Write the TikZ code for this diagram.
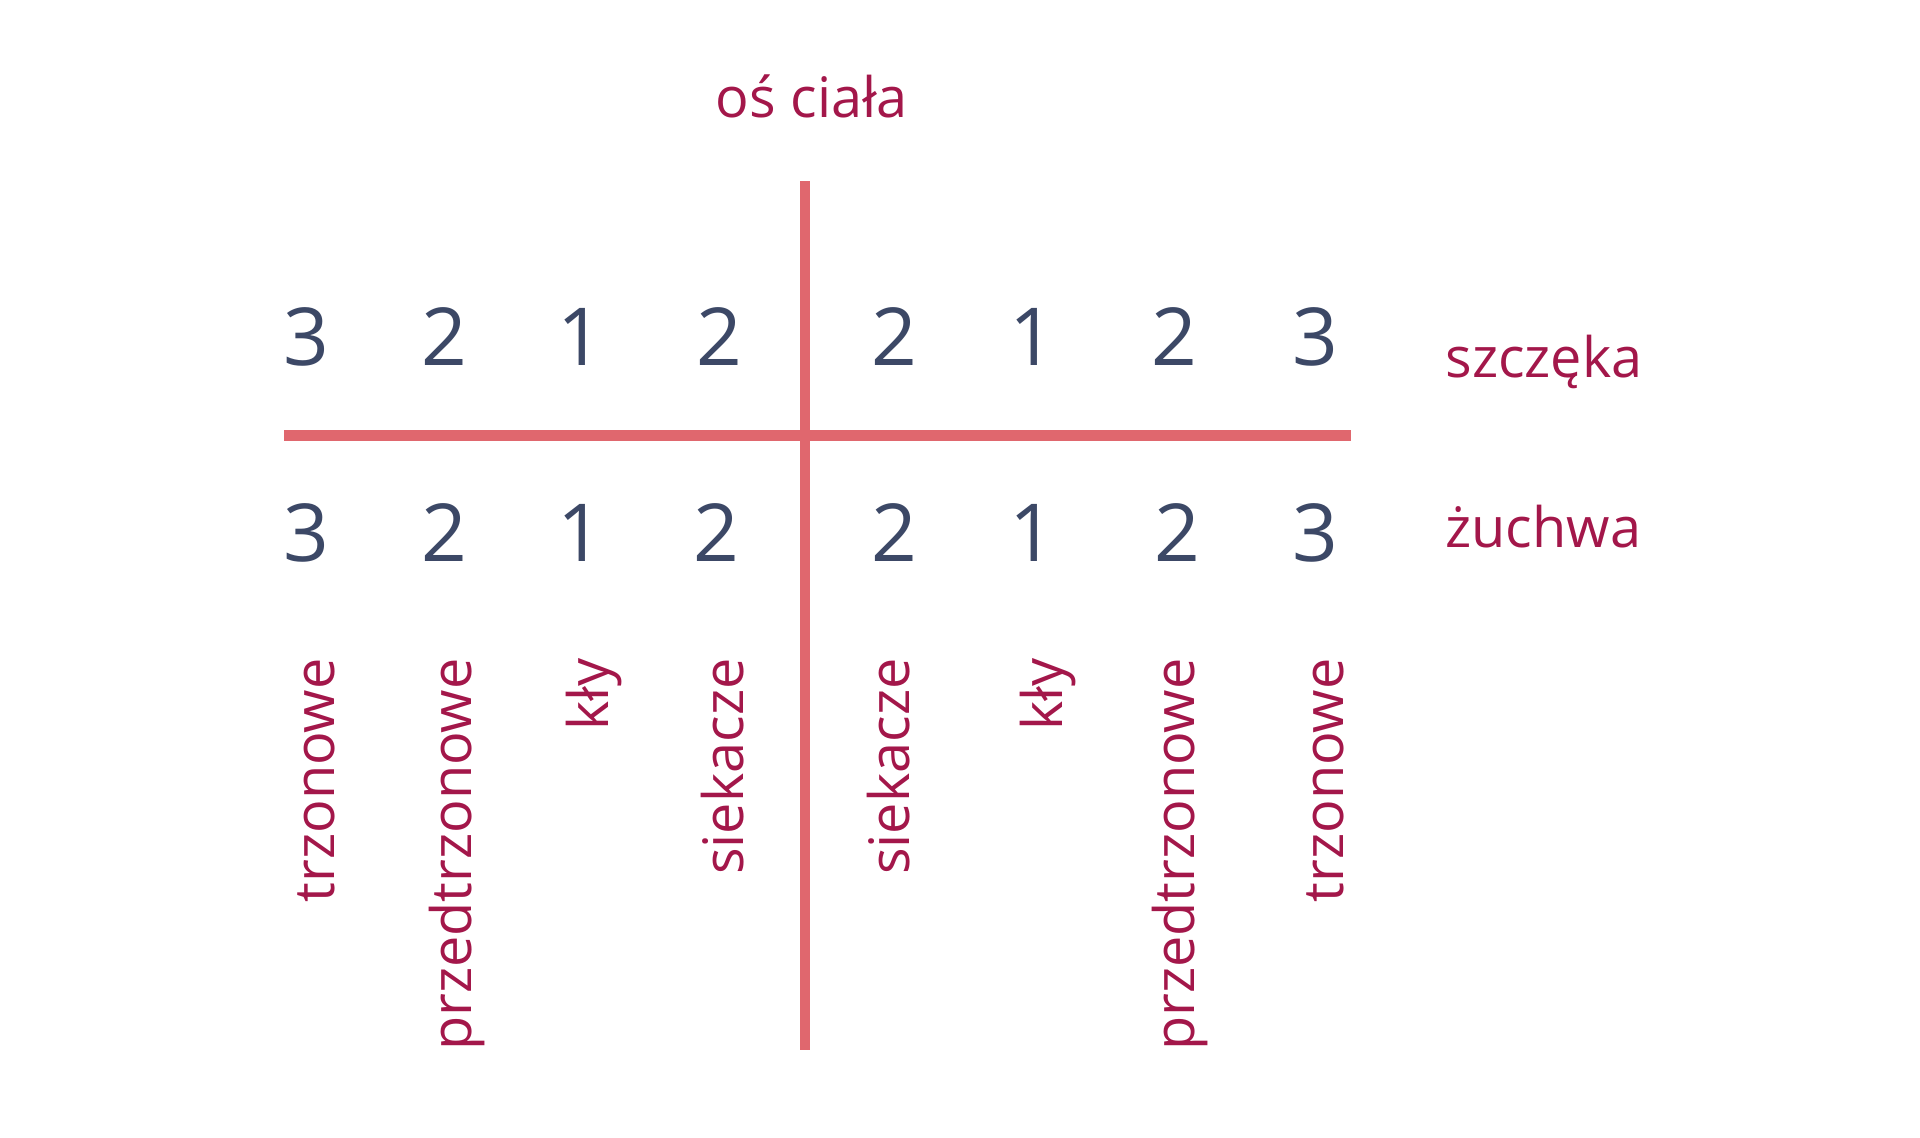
\documentclass[tikz,border=0pt]{standalone}
\usepackage{fontspec}
\setmainfont{Open Sans}
\definecolor{crimson}{HTML}{A3174A}
\definecolor{slate}{HTML}{3C4866}
\definecolor{linered}{HTML}{E0676E}
\begin{document}
\begin{tikzpicture}[x=0.5pt,y=-0.5pt,
  digit/.style={inner sep=0pt,anchor=base,text=slate,font=\fontsize{40}{48}\selectfont},
  lbl/.style={inner sep=0pt,text=crimson,font=\fontsize{27.9}{33}\selectfont},
  vlbl/.style={lbl,rotate=90,anchor=base east},
  axisline/.style={draw=linered,line width=5.35pt}]
\useasboundingbox (0,0) rectangle (1920,1137);
% axes
\coordinate (vtop) at (805,181);
\coordinate (vbot) at (805,1050);
\coordinate (hleft) at (284,435.5);
\coordinate (hright) at (1351,435.5);
\draw[axisline] (hleft) -- (hright);
\draw[axisline] (vtop) -- (vbot);
% titles
\node[lbl,anchor=base] (os) at (812,117) {oś ciała};
\node[lbl,anchor=base west] (szczeka) at (1445,377) {szczęka};
\node[lbl,anchor=base west] (zuchwa) at (1445,547) {żuchwa};
% upper digits
\node[digit] (u1) at (306,365) {3};
\node[digit] (u2) at (444,365) {2};
\node[digit] (u3) at (580,365) {1};
\node[digit] (u4) at (719,365) {2};
\node[digit] (u5) at (894,365) {2};
\node[digit] (u6) at (1032,365) {1};
\node[digit] (u7) at (1174,365) {2};
\node[digit] (u8) at (1315,365) {3};
% lower digits
\node[digit] (l1) at (306,561) {3};
\node[digit] (l2) at (444,561) {2};
\node[digit] (l3) at (580,561) {1};
\node[digit] (l4) at (716,561) {2};
\node[digit] (l5) at (894,561) {2};
\node[digit] (l6) at (1032,561) {1};
\node[digit] (l7) at (1177,561) {2};
\node[digit] (l8) at (1315,561) {3};
% vertical labels
\node[vlbl] (t1) at (334,658) {trzonowe};
\node[vlbl] (t2) at (471,658) {przedtrzonowe};
\node[vlbl] (t3) at (608,658) {kły};
\node[vlbl] (t4) at (743,658) {siekacze};
\node[vlbl] (t5) at (909,658) {siekacze};
\node[vlbl] (t6) at (1062,658) {kły};
\node[vlbl] (t7) at (1194,658) {przedtrzonowe};
\node[vlbl] (t8) at (1343,658) {trzonowe};
\end{tikzpicture}
\end{document}
